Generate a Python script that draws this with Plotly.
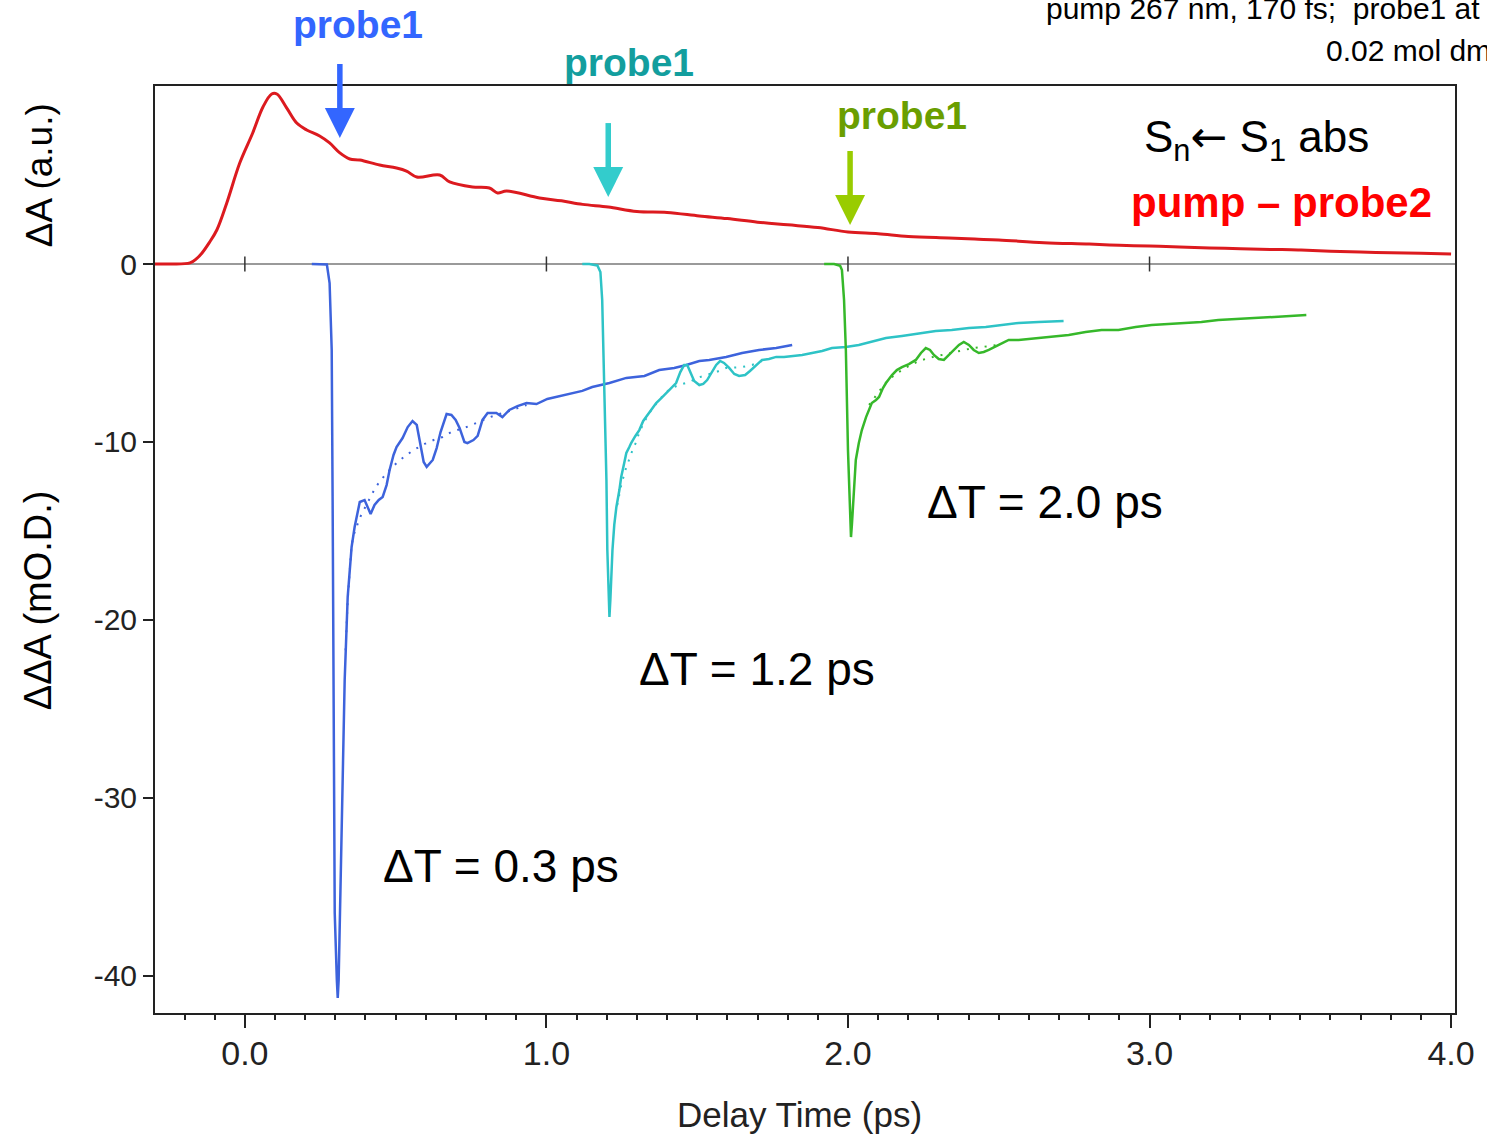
import plotly.graph_objects as go

# ---------------- data (ps, mO.D. / a.u.) ----------------
red_x = [-0.298, -0.25, -0.182, -0.16, -0.142, -0.118, -0.093, -0.060, -0.017, 0.026, 0.060, 0.089, 0.106,
         0.139, 0.172, 0.205, 0.248, 0.281, 0.315, 0.348, 0.381, 0.447, 0.503, 0.536, 0.570, 0.646, 0.679,
         0.755, 0.811, 0.838, 0.868, 0.977, 1.05, 1.12, 1.205, 1.30, 1.40, 1.507, 1.60, 1.70, 1.80, 1.90,
         2.0, 2.10, 2.20, 2.334, 2.42, 2.5, 2.65, 2.80, 2.90, 3.0, 3.10, 3.25, 3.40, 3.493, 3.60, 3.75, 3.90, 4.0]
red_y = [0.0, 0.0, 0.06, 0.3, 0.62, 1.2, 1.91, 3.43, 5.67, 7.36, 8.82, 9.55, 9.55,
         8.76, 7.92, 7.53, 7.19, 6.80, 6.24, 5.90, 5.84, 5.56, 5.39, 5.22, 4.89, 5.00, 4.61,
         4.33, 4.27, 3.99, 4.10, 3.71, 3.55, 3.35, 3.20, 2.95, 2.90, 2.70, 2.55, 2.35, 2.20, 2.05,
         1.80, 1.70, 1.55, 1.46, 1.40, 1.35, 1.20, 1.12, 1.05, 1.01, 0.95, 0.88, 0.82, 0.79, 0.72, 0.65, 0.60, 0.56]

blue_x = [0.222, 0.242, 0.272, 0.281, 0.288, 0.291, 0.295, 0.298, 0.305, 0.308, 0.311, 0.315, 0.321, 0.325,
          0.331, 0.341, 0.348, 0.354, 0.364, 0.371, 0.381, 0.397, 0.407, 0.417, 0.430, 0.444, 0.457, 0.470,
          0.480, 0.493, 0.503, 0.523, 0.540, 0.556, 0.570, 0.579, 0.593, 0.603, 0.623, 0.636, 0.649, 0.669,
          0.685, 0.699, 0.712, 0.728, 0.738, 0.758, 0.772, 0.788, 0.805, 0.834, 0.854, 0.877, 0.904, 0.934,
          0.967, 1.003, 1.043, 1.086, 1.119, 1.152, 1.209, 1.265, 1.325, 1.374, 1.424, 1.464, 1.507, 1.540,
          1.596, 1.649, 1.705, 1.762, 1.815]
blue_y = [0.0, 0.0, -0.03, -1.07, -4.83, -13.26, -24.49, -36.46, -40.22, -41.24, -40.22, -36.46, -31.24, -28.99,
          -23.37, -18.71, -16.91, -15.90, -14.78, -14.10, -13.37, -13.26, -13.71, -14.04, -13.54, -13.26, -13.09, -12.42,
          -11.57, -10.73, -10.28, -9.78, -9.16, -8.82, -9.04, -9.89, -11.12, -11.40, -11.01, -10.34, -9.44, -8.43,
          -8.48, -8.76, -9.21, -10.0, -10.06, -9.89, -9.66, -8.76, -8.37, -8.37, -8.60, -8.20, -7.98, -7.81,
          -7.87, -7.58, -7.42, -7.25, -7.13, -6.91, -6.69, -6.40, -6.29, -5.96, -5.84, -5.67, -5.45, -5.39,
          -5.22, -5.00, -4.83, -4.72, -4.55]
blue_fit_x = [0.334, 0.341, 0.348, 0.354, 0.361, 0.371, 0.381, 0.391, 0.404, 0.417, 0.434, 0.454, 0.480, 0.507,
              0.536, 0.566, 0.596, 0.626, 0.656, 0.685, 0.715, 0.745, 0.775, 0.805, 0.834, 0.877, 0.934]
blue_fit_y = [-21.7, -18.9, -17.2, -15.79, -15.22, -14.72, -14.27, -13.93, -13.48, -13.09, -12.53, -12.08, -11.57,
              -11.12, -10.73, -10.39, -10.11, -9.89, -9.72, -9.44, -9.27, -9.10, -8.88, -8.65, -8.48, -8.26, -7.92]

teal_x = [1.119, 1.142, 1.169, 1.179, 1.185, 1.192, 1.199, 1.202, 1.205, 1.209, 1.212, 1.219, 1.225, 1.232,
          1.242, 1.248, 1.258, 1.265, 1.275, 1.281, 1.295, 1.308, 1.321, 1.331, 1.348, 1.364, 1.381, 1.397,
          1.414, 1.430, 1.444, 1.457, 1.467, 1.477, 1.490, 1.507, 1.520, 1.533, 1.550, 1.563, 1.576, 1.589,
          1.606, 1.623, 1.639, 1.659, 1.675, 1.692, 1.715, 1.738, 1.762, 1.788, 1.815, 1.848, 1.881, 1.914,
          1.947, 1.993, 2.036, 2.079, 2.126, 2.179, 2.235, 2.291, 2.344, 2.401, 2.457, 2.510, 2.566, 2.632, 2.715]
teal_y = [0.0, 0.0, -0.08, -0.45, -2.02, -6.69, -12.13, -16.07, -18.31, -19.83, -18.88, -16.07, -14.66, -13.65,
          -12.70, -11.97, -11.18, -10.62, -10.28, -10.06, -9.66, -9.33, -8.82, -8.60, -8.20, -7.81, -7.53, -7.25,
          -6.97, -6.69, -6.07, -5.67, -5.67, -6.07, -6.57, -6.80, -6.74, -6.52, -6.01, -5.67, -5.45, -5.56,
          -5.84, -6.18, -6.29, -6.24, -6.01, -5.73, -5.39, -5.34, -5.22, -5.22, -5.17, -5.11, -5.00, -4.89,
          -4.72, -4.66, -4.55, -4.38, -4.16, -4.04, -3.88, -3.76, -3.71, -3.60, -3.54, -3.43, -3.31, -3.26, -3.20]
teal_fit_x = [1.235, 1.248, 1.262, 1.275, 1.288, 1.298, 1.308, 1.328, 1.348, 1.374, 1.394, 1.414, 1.440, 1.474,
              1.500, 1.530, 1.563, 1.596, 1.649, 1.682, 1.715]
teal_fit_y = [-13.54, -12.42, -11.57, -10.90, -10.34, -10.0, -9.44, -8.76, -8.20, -7.64, -7.25, -6.97, -6.80, -6.63,
              -6.40, -6.24, -6.07, -5.84, -5.79, -5.67, -5.45]

green_x = [1.921, 1.954, 1.974, 1.980, 1.987, 1.993, 2.0, 2.007, 2.010, 2.013, 2.020, 2.026, 2.036, 2.046,
           2.060, 2.070, 2.079, 2.093, 2.103, 2.116, 2.126, 2.146, 2.162, 2.179, 2.202, 2.225, 2.242, 2.258,
           2.272, 2.285, 2.301, 2.318, 2.334, 2.351, 2.368, 2.384, 2.401, 2.417, 2.434, 2.450, 2.467, 2.5,
           2.533, 2.566, 2.623, 2.675, 2.732, 2.788, 2.841, 2.897, 2.954, 3.007, 3.063, 3.119, 3.172, 3.228,
           3.285, 3.338, 3.394, 3.460, 3.520]
green_y = [0.0, 0.0, -0.1, -0.34, -2.02, -4.83, -10.45, -13.82, -15.34, -14.66, -12.30, -11.01, -10.06, -9.33,
           -8.60, -8.20, -7.81, -7.64, -7.47, -6.97, -6.69, -6.24, -5.96, -5.79, -5.62, -5.39, -5.00, -4.72,
           -4.83, -5.11, -5.34, -5.39, -5.11, -4.83, -4.55, -4.38, -4.55, -4.83, -5.00, -4.94, -4.83, -4.55,
           -4.27, -4.27, -4.16, -4.10, -3.99, -3.82, -3.71, -3.71, -3.54, -3.43, -3.37, -3.31, -3.26, -3.15,
           -3.09, -3.03, -2.98, -2.92, -2.87]
green_fit_x = [2.070, 2.086, 2.103, 2.119, 2.142, 2.169, 2.202, 2.235, 2.268, 2.295, 2.325, 2.354, 2.384, 2.414,
               2.444, 2.474, 2.5]
green_fit_y = [-7.92, -7.53, -7.19, -6.80, -6.40, -6.07, -5.73, -5.45, -5.28, -5.17, -5.06, -4.94, -4.83, -4.72,
               -4.66, -4.61, -4.55]

x_tick_vals = [0, 1, 2, 3, 4]
x_tick_text = ["0.0", "1.0", "2.0", "3.0", "4.0"]
y_tick_vals = [0, -10, -20, -30, -40]
y_tick_text = ["0", "-10", "-20", "-30", "-40"]
zero_marks = [0, 1, 2, 3]

# probe arrows: tip position (ps, signal units)
probe_tip_x = [0.315, 1.205, 2.007]
probe_tip_y = [7.08, 3.76, 2.19]

# ---------------- styles ----------------
FONT = "Liberation Sans, Arial, Helvetica, sans-serif"
RED = "#dc1a1f"
BLUE = "#3d63dc"
TEAL = "#2ec3c6"
GREEN = "#36b82a"
ARROW_COLS = ["#3366ff", "#33cccc", "#99cc00"]
LABEL_COLS = ["#3366ff", "#139e9e", "#6a9e00"]

X_RANGE = [-0.298, 4.013]
Y_RANGE = [-42.08, 10.0]
PLOT_W = 1487 - 155 - 30
PLOT_H = 1138 - 86 - 125


def px_x(xv):
    return (xv - X_RANGE[0]) / (X_RANGE[1] - X_RANGE[0])


def px_y(yv):
    return (yv - Y_RANGE[0]) / (Y_RANGE[1] - Y_RANGE[0])


fig = go.Figure()

fig.add_trace(go.Scatter(x=red_x, y=red_y, mode="lines", line=dict(color=RED, width=3), line_shape="spline"))

for fx, fy, dx, dy, c in [
    (blue_fit_x, blue_fit_y, blue_x, blue_y, BLUE),
    (teal_fit_x, teal_fit_y, teal_x, teal_y, TEAL),
    (green_fit_x, green_fit_y, green_x, green_y, GREEN),
]:
    fig.add_trace(go.Scatter(x=fx, y=fy, mode="lines", line=dict(color=c, width=2, dash="2px,7px")))
    fig.add_trace(go.Scatter(x=dx, y=dy, mode="lines", line=dict(color=c, width=2.5)))

# small tick marks on the zero line
for xm in zero_marks:
    fig.add_shape(type="line", x0=xm, x1=xm, y0=-0.42, y1=0.42, xref="x", yref="y",
                  line=dict(color="#333333", width=1.5))

# probe arrows drawn as shaft + triangular head (paper coordinates)
SHAFT_PX, HEAD_PX, HALF_W_PX = 74, 30, 15
for tx, ty, col in zip(probe_tip_x, probe_tip_y, ARROW_COLS):
    xp = px_x(tx)
    tip = px_y(ty)
    base = tip + HEAD_PX / PLOT_H
    tail = tip + SHAFT_PX / PLOT_H
    hw = HALF_W_PX / PLOT_W
    fig.add_shape(type="line", xref="paper", yref="paper", x0=xp, x1=xp, y0=tail, y1=base - 0.002,
                  line=dict(color=col, width=5.5))
    fig.add_shape(type="path", xref="paper", yref="paper",
                  path=f"M {xp - hw},{base} L {xp + hw},{base} L {xp},{tip} Z",
                  fillcolor=col, line=dict(color=col, width=0))

ann = []
# probe labels (pixel offsets above arrow tips)
label_dx_px = [18, 21, 52]
label_dy_px = [113, 135, 110]
for tx, ty, dxp, dyp, col in zip(probe_tip_x, probe_tip_y, label_dx_px, label_dy_px, LABEL_COLS):
    ann.append(dict(x=px_x(tx) + dxp / PLOT_W, y=px_y(ty) + dyp / PLOT_H, xref="paper", yref="paper",
                    text="<b>probe1</b>", showarrow=False,
                    font=dict(family=FONT, size=39, color=col), xanchor="center", yanchor="middle"))

ann.append(dict(x=3.354, y=6.97, xref="x", yref="y", showarrow=False,
                text="S<sub>n</sub><span style=\"font-family:DejaVu Sans\">\u2190</span> S<sub>1</sub> abs",
                font=dict(family=FONT, size=44, color="black"), xanchor="center", yanchor="middle"))
ann.append(dict(x=3.437, y=3.48, xref="x", yref="y", showarrow=False,
                text="<b>pump \u2013 probe2</b>",
                font=dict(family=FONT, size=42, color="#ff0000"), xanchor="center", yanchor="middle"))
for tx, ty, t in [(2.652, -13.37, "\u0394T = 2.0 ps"), (1.699, -22.75, "\u0394T = 1.2 ps"),
                  (0.848, -33.82, "\u0394T = 0.3 ps")]:
    ann.append(dict(x=tx, y=ty, xref="x", yref="y", text=t, showarrow=False,
                    font=dict(family=FONT, size=46, color="black"), xanchor="center", yanchor="middle"))

# top-right (partly cut) experimental conditions
ann.append(dict(x=0.684, y=1.084, xref="paper", yref="paper", showarrow=False, xanchor="left", yanchor="middle",
                text="pump 267 nm, 170 fs;  probe1 at 800 nm", font=dict(family=FONT, size=30, color="black")))
ann.append(dict(x=0.8994, y=1.041, xref="paper", yref="paper", showarrow=False, xanchor="left", yanchor="middle",
                text="0.02 mol dm<sup>-3</sup>", font=dict(family=FONT, size=30, color="black")))

# axis titles
ann.append(dict(x=-0.0883, y=0.904, xref="paper", yref="paper", showarrow=False, textangle=-90,
                text="\u0394A (a.u.)", font=dict(family=FONT, size=37, color="black"),
                xanchor="center", yanchor="middle"))
ann.append(dict(x=-0.0899, y=0.4455, xref="paper", yref="paper", showarrow=False, textangle=-90,
                text="\u0394\u0394A (mO.D.)", font=dict(family=FONT, size=38, color="black"),
                xanchor="center", yanchor="middle"))
ann.append(dict(x=0.496, y=-0.110, xref="paper", yref="paper", showarrow=False,
                text="Delay Time (ps)", font=dict(family=FONT, size=35, color="#222222"),
                xanchor="center", yanchor="middle"))

fig.update_layout(
    width=1487, height=1138,
    margin=dict(l=155, r=30, t=86, b=125),
    plot_bgcolor="white", paper_bgcolor="white",
    showlegend=False,
    annotations=ann,
    font=dict(family=FONT, color="#222222"),
)
fig.update_xaxes(
    range=X_RANGE, showgrid=False, zeroline=False,
    showline=True, linecolor="#222222", linewidth=2, mirror=True,
    tickvals=x_tick_vals, ticktext=x_tick_text, ticks="outside", ticklen=13, tickwidth=2, tickcolor="#222222",
    tickfont=dict(family=FONT, size=34, color="#222222"), ticklabelstandoff=-4,
    minor=dict(dtick=0.1, tick0=0, ticks="outside", ticklen=5, tickwidth=1.5, tickcolor="#222222"),
)
fig.update_yaxes(
    range=Y_RANGE, showgrid=False,
    zeroline=True, zerolinecolor="#9a9a9a", zerolinewidth=1.5,
    showline=True, linecolor="#222222", linewidth=2, mirror=True,
    tickvals=y_tick_vals, ticktext=y_tick_text, ticks="outside", ticklen=10, tickwidth=2, tickcolor="#222222",
    tickfont=dict(family=FONT, size=30, color="#222222"),
)

fig.write_html("out.html")
